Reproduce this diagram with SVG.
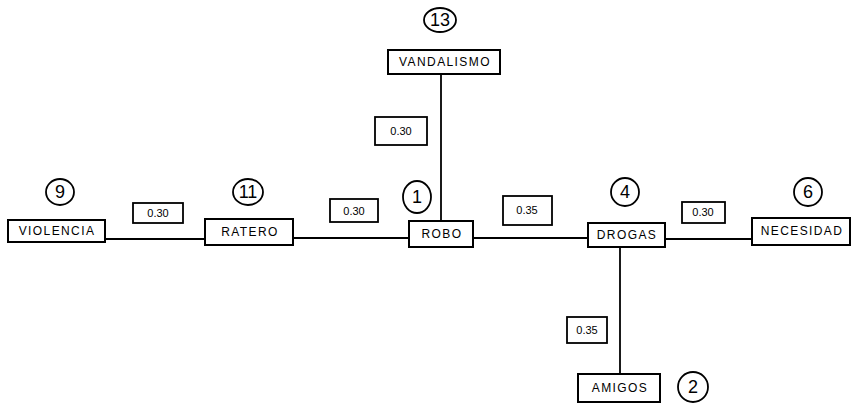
<svg xmlns="http://www.w3.org/2000/svg" width="853" height="408" viewBox="0 0 853 408">
<style>
.box{fill:#fff;stroke:#000;stroke-width:2}
.lbl{fill:#fff;stroke:#000;stroke-width:1.8}
.circ{fill:none;stroke:#000;stroke-width:1.8}
.t{font-family:"Liberation Sans",Arial,sans-serif;font-size:12px;letter-spacing:1.4px;fill:#000;text-anchor:middle;dominant-baseline:central}
.s{font-family:"Liberation Sans",Arial,sans-serif;font-size:11px;fill:#000;text-anchor:middle;dominant-baseline:central}
.n{font-family:"Liberation Sans",Arial,sans-serif;font-size:18px;fill:#000;text-anchor:middle;dominant-baseline:central}
.ln{stroke:#000;stroke-width:1.8;fill:none}
</style>
<rect width="853" height="408" fill="#fff"/>
<g id="connectors">
<line class="ln" x1="105" y1="239" x2="205" y2="239"/>
<line class="ln" x1="293" y1="238" x2="409" y2="238"/>
<line class="ln" x1="441" y1="73" x2="441" y2="221"/>
<line class="ln" x1="473" y1="238" x2="588" y2="238"/>
<line class="ln" x1="665" y1="239" x2="752" y2="239"/>
<line class="ln" x1="620" y1="247" x2="620" y2="374"/>
<g id="w1"><rect class="lbl" x="133" y="203" width="50" height="20"/><text class="s" x="158" y="213">0.30</text></g>
<g id="w2"><rect class="lbl" x="330" y="199" width="48" height="23"/><text class="s" x="354" y="211">0.30</text></g>
<g id="w3"><rect class="lbl" x="375" y="117" width="52" height="28"/><text class="s" x="401" y="131">0.30</text></g>
<g id="w4"><rect class="lbl" x="503" y="196" width="49" height="29"/><text class="s" x="527" y="210">0.35</text></g>
<g id="w5"><rect class="lbl" x="682" y="202" width="43" height="21"/><text class="s" x="703" y="212">0.30</text></g>
<g id="w6"><rect class="lbl" x="567" y="317" width="40" height="26"/><text class="s" x="587" y="330">0.35</text></g>
</g>
<g id="vandalismo"><ellipse class="circ" cx="440" cy="20" rx="16" ry="12"/><text class="n" x="440" y="20">13</text><rect class="box" x="388" y="50" width="112" height="24"/><text class="t" x="445" y="62">VANDALISMO</text></g>
<g id="violencia"><ellipse class="circ" cx="60" cy="192" rx="14" ry="13"/><text class="n" x="60" y="192">9</text><rect class="box" x="8" y="220" width="97" height="22"/><text class="t" x="57" y="231">VIOLENCIA</text></g>
<g id="ratero"><ellipse class="circ" cx="248" cy="192" rx="15" ry="13"/><text class="n" x="248" y="192">11</text><rect class="box" x="205" y="219" width="88" height="26"/><text class="t" x="250" y="232">RATERO</text></g>
<g id="robo"><ellipse class="circ" cx="417" cy="197" rx="14" ry="16"/><text class="n" x="417" y="197">1</text><rect class="box" x="409" y="221" width="64" height="26"/><text class="t" x="442" y="234">ROBO</text></g>
<g id="drogas"><ellipse class="circ" cx="625" cy="192" rx="14" ry="14"/><text class="n" x="625" y="192">4</text><rect class="box" x="588" y="223" width="77" height="24"/><text class="t" x="627" y="235">DROGAS</text></g>
<g id="necesidad"><ellipse class="circ" cx="808" cy="192" rx="14" ry="14"/><text class="n" x="808" y="192">6</text><rect class="box" x="752" y="218" width="98" height="27"/><text class="t" x="802" y="231">NECESIDAD</text></g>
<g id="amigos"><rect class="box" x="578" y="374" width="82" height="28"/><text class="t" x="620" y="388">AMIGOS</text><ellipse class="circ" cx="693" cy="387" rx="15" ry="15"/><text class="n" x="693" y="387">2</text></g>
</svg>
